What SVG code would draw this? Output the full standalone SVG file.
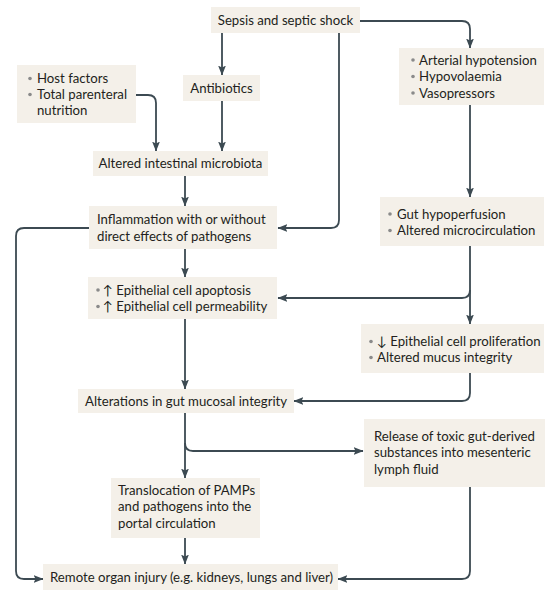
<svg xmlns="http://www.w3.org/2000/svg" width="554" height="594" viewBox="0 0 554 594">
<style>
.box{fill:#f4f0e9}
.t{font-family:Lato,"Open Sans",sans-serif;font-size:13.2px;fill:#231f20}
.b{fill:#8a8a8a}
.c{fill:none;stroke:#3c4a52;stroke-width:1.8;marker-end:url(#ah)}
</style>
<defs>
<marker id="ah" markerUnits="userSpaceOnUse" markerWidth="10" markerHeight="10" viewBox="0 0 9 8" refX="8.5" refY="4" orient="auto">
<path d="M0,0.5 L9,4 L0,7.5 L1.8,4 z" fill="#3c4a52"/>
</marker>
</defs>
<rect width="554" height="594" fill="#ffffff"/>
<g id="connectors">
<path class="c" d="M222,33 V75"/>
<path class="c" d="M222,101 V151"/>
<path class="c" d="M136,95 H148 Q156,95 156,103 V151"/>
<path class="c" d="M360,21 H462 Q470,21 470,29 V48"/>
<path class="c" d="M339,33 V220 Q339,228 331,228 H278"/>
<path class="c" d="M185,176 V206"/>
<path class="c" d="M470,105 V197"/>
<path class="c" d="M470,246 V290 Q470,298 462,298 H278"/>
<path class="c" d="M470,290 V324"/>
<path class="c" d="M185,249 V277"/>
<path class="c" d="M89,228 H24 Q16,228 16,236 V571 Q16,579 24,579 H43"/>
<path class="c" d="M185,319 V389"/>
<path class="c" d="M470,373 V393 Q470,401 462,401 H294"/>
<path class="c" d="M185,413 V478"/>
<path class="c" d="M185,443 Q185,451 193,451 H363"/>
<path class="c" d="M185,538 V564"/>
<path class="c" d="M470,487 V571 Q470,579 462,579 H338"/>
</g>
<g id="sepsis">
<rect class="box" x="211" y="7" width="149" height="26"/>
<text class="t" x="285.5" y="24.5" text-anchor="middle">Sepsis and septic shock</text>
</g>
<g id="antibiotics">
<rect class="box" x="183" y="75" width="77" height="26"/>
<text class="t" x="221.5" y="92.5" text-anchor="middle">Antibiotics</text>
</g>
<g id="host">
<rect class="box" x="17" y="65" width="119" height="58"/>
<circle class="b" cx="30" cy="78.5" r="1.8"/>
<circle class="b" cx="30" cy="94.5" r="1.8"/>
<text class="t" x="37" y="83">Host factors</text>
<text class="t" x="37" y="99">Total parenteral</text>
<text class="t" x="37" y="115">nutrition</text>
</g>
<g id="microbiota">
<rect class="box" x="93" y="151" width="175" height="25"/>
<text class="t" x="180.5" y="168" text-anchor="middle">Altered intestinal microbiota</text>
</g>
<g id="arterial">
<rect class="box" x="399" y="48" width="145" height="57"/>
<circle class="b" cx="413" cy="60" r="1.8"/>
<circle class="b" cx="413" cy="76.5" r="1.8"/>
<circle class="b" cx="413" cy="93" r="1.8"/>
<text class="t" x="419" y="64.5">Arterial hypotension</text>
<text class="t" x="419" y="81">Hypovolaemia</text>
<text class="t" x="419" y="97.5">Vasopressors</text>
</g>
<g id="inflammation">
<rect class="box" x="89" y="206" width="188" height="43"/>
<text class="t" x="97" y="224">Inflammation with or without</text>
<text class="t" x="97" y="241">direct effects of pathogens</text>
</g>
<g id="gut">
<rect class="box" x="380" y="197" width="164" height="49"/>
<circle class="b" cx="390" cy="214" r="1.8"/>
<circle class="b" cx="390" cy="230.5" r="1.8"/>
<text class="t" x="397" y="218.5">Gut hypoperfusion</text>
<text class="t" x="397" y="235">Altered microcirculation</text>
</g>
<g id="epithelial">
<rect class="box" x="88" y="277" width="189" height="42"/>
<circle class="b" cx="98" cy="290" r="1.8"/>
<circle class="b" cx="98" cy="306.5" r="1.8"/>
<text class="t" x="103" y="294.5">↑ Epithelial cell apoptosis</text>
<text class="t" x="103" y="311">↑ Epithelial cell permeability</text>
</g>
<g id="proliferation">
<rect class="box" x="361" y="324" width="183" height="49"/>
<circle class="b" cx="371" cy="341.5" r="1.8"/>
<circle class="b" cx="371" cy="357.5" r="1.8"/>
<text class="t" x="377" y="346">↓ Epithelial cell proliferation</text>
<text class="t" x="377" y="362">Altered mucus integrity</text>
</g>
<g id="alterations">
<rect class="box" x="78" y="389" width="216" height="24"/>
<text class="t" x="85" y="405.5">Alterations in gut mucosal integrity</text>
</g>
<g id="release">
<rect class="box" x="364" y="419" width="181" height="68"/>
<text class="t" x="374" y="440.5">Release of toxic gut-derived</text>
<text class="t" x="374" y="457">substances into mesenteric</text>
<text class="t" x="374" y="473.5">lymph fluid</text>
</g>
<g id="translocation">
<rect class="box" x="111" y="478" width="149" height="60"/>
<text class="t" x="118" y="494.5">Translocation of PAMPs</text>
<text class="t" x="118" y="511">and pathogens into the</text>
<text class="t" x="118" y="527.5">portal circulation</text>
</g>
<g id="remote">
<rect class="box" x="43" y="564" width="295" height="26"/>
<text class="t" x="50" y="582">Remote organ injury (e.g. kidneys, lungs and liver)</text>
</g>
</svg>
